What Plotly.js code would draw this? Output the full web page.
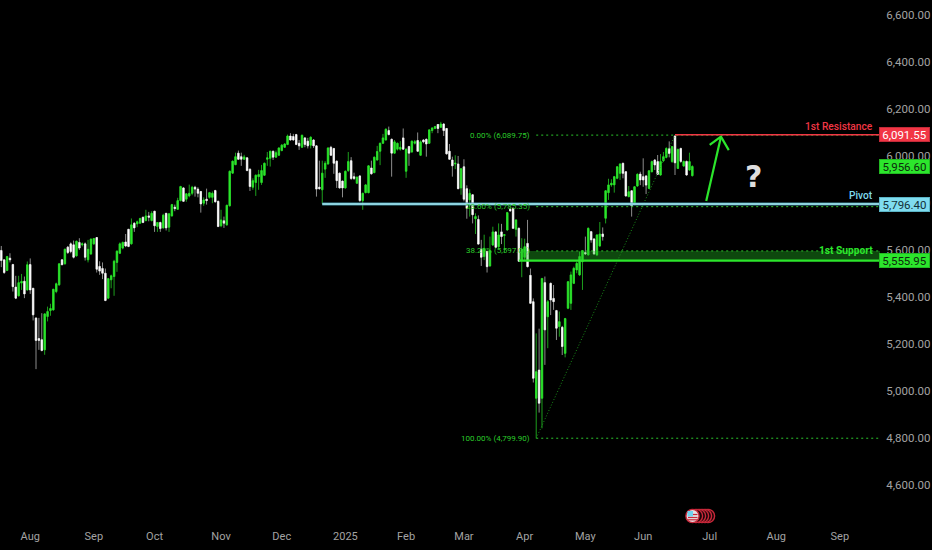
<!DOCTYPE html>
<html>
<head>
<meta charset="utf-8">
<script src="https://cdn.plot.ly/plotly-3.0.1.min.js"></script>
<style>html,body{margin:0;padding:0;background:#000;overflow:hidden}</style>
</head>
<body>
<div id="chart" style="width:932px;height:550px"></div>
<script>
const open = [
5599,5559,5514,5566,5539,5443,5406,5460,5468,5431,
5539,5438,5311,5224,5219,5176,5318,5343,5346,5424,
5453,5559,5542,5613,5627,5623,5576,5633,5623,5627,
5559,5584,5627,5654,5531,5522,5502,5396,5474,5488,
5548,5587,5609,5635,5689,5627,5715,5712,5715,5740,
5726,5746,5726,5766,5701,5718,5695,5757,5698,5746,
5783,5774,5811,5865,5817,5831,5842,5868,5860,5850,
5800,5817,5825,5825,5854,5808,5704,5725,5708,5789,
5928,5964,6013,5998,5987,5993,5945,5868,5888,5913,
5888,5919,5987,5991,6021,5996,6004,6024,6038,6050,
6086,6084,6092,6055,6038,6078,6064,6047,6069,6044,
5868,5857,5945,5967,6038,6033,5979,5928,5894,5865,
5939,5981,5913,5885,5916,5811,5845,5845,5950,5930,
5984,6021,6055,6069,6109,6072,6013,6030,6030,6078,
5936,6041,6018,6055,6067,6004,6069,6072,6055,6109,
6118,6135,6123,6137,6118,6021,5984,5967,5967,5865,
5955,5862,5814,5836,5734,5731,5604,5573,5595,5533,
5622,5678,5615,5678,5663,5686,5774,5778,5689,5693,
5558,5570,5629,5493,5381,4970,5090,4970,5462,5317,
5459,5395,5343,5275,5272,5161,5353,5374,5459,5516,
5495,5551,5590,5580,5679,5648,5580,5618,5669,5736,
5845,5878,5878,5906,5927,5970,5934,5828,5853,5797,
5873,5924,5913,5916,5863,5934,5984,5977,5920,5981,
5995,6033,5977,6086,5948,6033,5958,5978,5941,5917];
const high = [
5618,5559,5576,5587,5542,5491,5491,5499,5488,5552,
5565,5438,5315,5312,5332,5332,5360,5372,5434,5462,
5545,5562,5607,5618,5633,5641,5641,5651,5633,5633,
5644,5650,5652,5654,5553,5548,5522,5482,5496,5559,
5599,5633,5637,5669,5689,5735,5718,5726,5738,5743,
5772,5763,5766,5766,5718,5721,5755,5757,5757,5797,
5794,5823,5874,5868,5842,5879,5874,5874,5868,5852,
5825,5862,5848,5850,5857,5811,5772,5743,5794,5939,
5981,6015,6024,6015,6006,5996,5947,5906,5922,5942,
5963,5973,6018,6024,6024,6024,6038,6052,6055,6092,
6098,6095,6095,6069,6092,6081,6078,6084,6072,6047,
5981,5981,5979,6038,6044,6035,5981,5930,5896,5939,
6018,5996,5930,5913,5919,5845,5882,5962,5981,5998,
6044,6058,6095,6118,6126,6075,6069,6058,6064,6118,
6033,6044,6067,6069,6101,6067,6072,6075,6115,6123,
6129,6137,6146,6140,6120,6052,5998,6004,6001,5950,
5987,5876,5859,5839,5757,5748,5644,5666,5598,5658,
5700,5680,5714,5712,5669,5763,5782,5782,5731,5697,
5651,5649,5729,5522,5395,5246,5266,5480,5488,5388,
5462,5452,5346,5339,5278,5312,5469,5509,5530,5551,
5594,5601,5658,5697,5682,5651,5668,5720,5697,5856,
5904,5902,5916,5958,5970,5972,5937,5873,5856,5873,
5927,5934,5991,5920,5941,5981,5987,6005,6009,6018,
6038,6063,6043,6089,6032,6036,5981,5981,6015,5961];
const low = [
5528,5499,5511,5548,5424,5392,5403,5431,5396,5428,
5414,5301,5094,5176,5170,5155,5297,5321,5343,5417,
5448,5538,5539,5584,5587,5565,5573,5601,5616,5556,
5548,5580,5623,5505,5495,5477,5383,5392,5438,5406,
5508,5584,5604,5613,5613,5624,5678,5698,5712,5715,
5723,5723,5723,5678,5678,5678,5692,5684,5678,5743,
5766,5772,5808,5806,5806,5825,5834,5828,5825,5760,
5789,5794,5820,5800,5803,5698,5698,5695,5704,5786,
5925,5962,5984,5959,5984,5936,5852,5857,5831,5857,
5878,5916,5959,5956,5984,5993,6001,6021,6035,6047,
6067,6067,6047,6027,6035,6038,6033,6033,6035,5828,
5857,5797,5908,5964,6001,5925,5865,5862,5825,5862,
5933,5899,5899,5882,5806,5772,5842,5842,5922,5928,
5981,5962,6052,6067,6089,5913,6010,6024,6024,6027,
5908,5959,6015,6050,6018,6001,6055,5998,6052,6098,
6115,6098,6120,6086,6007,5984,5913,5945,5859,5836,
5808,5734,5743,5714,5669,5624,5533,5558,5505,5530,
5618,5609,5609,5626,5590,5683,5763,5690,5658,5550,
5485,5558,5527,5371,5037,4799.9,4909,4842,5112,5183,
5324,5346,5218,5232,5154,5144,5349,5346,5456,5502,
5490,5431,5580,5578,5632,5581,5575,5615,5641,5714,
5814,5870,5845,5902,5899,5906,5828,5825,5743,5792,
5870,5877,5870,5839,5860,5931,5941,5920,5917,5975,
5991,5995,5972,5920,5946,5972,5955,5917,5938,5914];
const close = [
5556,5505,5573,5559,5445,5396,5462,5467,5414,5538,
5431,5325,5216,5216,5173,5329,5339,5352,5434,5457,
5542,5538,5604,5590,5594,5570,5638,5609,5627,5570,
5604,5647,5650,5519,5511,5502,5386,5479,5491,5553,
5596,5627,5633,5618,5616,5708,5695,5721,5735,5718,
5746,5740,5757,5704,5718,5692,5749,5695,5755,5794,
5777,5811,5871,5808,5840,5842,5868,5860,5842,5797,
5814,5811,5845,5842,5806,5701,5729,5715,5791,5936,
5979,5998,5987,5987,5997,5939,5871,5896,5919,5922,
5939,5970,5993,6021,5996,6015,6035,6047,6052,6086,
6069,6069,6050,6044,6089,6050,6044,6081,6044,5860,
5862,5928,5970,6035,6004,5970,5896,5865,5865,5936,
5977,5905,5905,5911,5811,5842,5878,5959,5925,5996,
6020,6055,6078,6115,6092,6013,6061,6055,6038,6030,
6030,6013,6064,6062,6021,6061,6061,6052,6112,6120,
6126,6118,6137,6109,6010,5987,5959,5970,5862,5947,
5817,5778,5842,5751,5743,5626,5570,5608,5530,5598,
5678,5612,5665,5658,5666,5760,5768,5693,5729,5553,
5604,5615,5530,5374,5055,5083,4949,5480,5261,5381,
5388,5381,5268,5296,5190,5309,5466,5495,5523,5544,
5573,5598,5584,5693,5644,5584,5665,5669,5658,5853,
5878,5885,5913,5955,5967,5927,5831,5849,5788,5870,
5923,5899,5899,5877,5938,5977,5963,5923,5977,5998,
6033,6012,6041,5972,6029,5978,5978,5920,5977,5956.6];

const tickIndex = [10,32,53,76,97,119,140,160,181,202,222,245,268,290];
const tickLabels = ['Aug','Sep','Oct','Nov','Dec','2025','Feb','Mar','Apr','May','Jun','Jul','Aug','Sep'];
const priceTicks = [4600,4800,5000,5200,5400,5600,5800,6000,6200,6400,6600];

const resistance = 6091.55, pivot = 5796.40, support = 5555.95, lastPrice = 5956.60;
const fibPrices = [6089.75, 5785.35, 5597.00, 4799.90];
const fibLabels = ['0.00% (6,089.75)','23.60% (5,785.35)','38.20% (5,597.00)','100.00% (4,799.90)'];
const fibStartBar = 185, fibEndBar = 233, pivotStartBar = 111, supportStartBar = 179, fibLabelBar = 183.4;
const arrowShaftX = [243.8, 248.9], arrowShaftY = [5809, 6083];
const arrowHeadX = [245, 248.9, 251.6], arrowHeadY = [6048, 6083, 6026];

const GREEN = '#2ce62c', GREEN_DIM = '#1d9e1d', WHITE = '#ffffff', WHITE_DIM = '#8c8c8c';
const RED = '#f23645', CYAN = '#7fdcef', FIB = '#2bc42b';
const xMax = 303.9, FONT = 'Roboto, "Liberation Sans", sans-serif', AXIS = '#a3a3a3';

const bars = open.map((_, i) => i);
// wicks: dim, thin; bodies: a second pass over the same bars, bright and a little wider
const wicks = {
  type: 'candlestick', x: bars, open, high, low, close, width: 0.3, whiskerwidth: 0,
  increasing: {line: {color: GREEN_DIM, width: 1}, fillcolor: GREEN_DIM},
  decreasing: {line: {color: WHITE_DIM, width: 1}, fillcolor: WHITE_DIM},
  hoverinfo: 'skip'
};
const bodies = {
  type: 'candlestick', x: bars, open, close,
  high: open.map((v, i) => Math.max(v, close[i])),
  low: open.map((v, i) => Math.min(v, close[i])),
  width: 0.42, whiskerwidth: 0,
  increasing: {line: {color: GREEN, width: 0.5}, fillcolor: GREEN},
  decreasing: {line: {color: WHITE, width: 0.5}, fillcolor: WHITE},
  hoverinfo: 'skip'
};
const arrowShaft = {type: 'scatter', mode: 'lines', x: arrowShaftX, y: arrowShaftY,
  line: {color: GREEN, width: 2.2}, hoverinfo: 'skip'};
const arrowHead = {type: 'scatter', mode: 'lines', x: arrowHeadX, y: arrowHeadY,
  line: {color: GREEN, width: 2.2}, hoverinfo: 'skip'};

function hLine(y, x0, color, width, dash) {
  return {type: 'line', xref: 'x', yref: 'y', x0, x1: xMax, y0: y, y1: y,
    line: {color, width, dash: dash || 'solid'}};
}
const DOTS = '2px,3px';
const shapes = [
  {type: 'rect', xref: 'x', yref: 'y', x0: supportStartBar, x1: xMax, y0: support, y1: fibPrices[2],
    fillcolor: 'rgba(36,190,36,0.38)', line: {width: 0}},
  hLine(fibPrices[0], fibStartBar, FIB, 1, DOTS),
  hLine(fibPrices[1], fibStartBar, FIB, 1, DOTS),
  hLine(fibPrices[2], fibStartBar, FIB, 1, DOTS),
  hLine(fibPrices[3], fibStartBar, FIB, 1, DOTS),
  {type: 'line', xref: 'x', yref: 'y', x0: fibStartBar, x1: fibEndBar, y0: fibPrices[3], y1: fibPrices[0],
    line: {color: '#1a8f1a', width: 1, dash: '1px,2px'}},
  hLine(resistance, fibEndBar, RED, 1.6),
  hLine(pivot, pivotStartBar, '#3f8a99', 3),
  hLine(pivot, pivotStartBar, '#a8ecf8', 1.6),
  hLine(support, supportStartBar, GREEN, 2.2)
];

// event badge at the bottom of the pane
const PW = 880, PH = 528;
function badge(cx, cy, r, fill, line) {
  return {type: 'circle', xref: 'paper', yref: 'paper',
    x0: (cx - r) / PW, x1: (cx + r) / PW, y0: 1 - (cy + r) / PH, y1: 1 - (cy - r) / PH,
    fillcolor: fill, line: {color: line, width: 1.4}};
}
[708, 705, 702, 699, 696].forEach(cx => shapes.push(badge(cx, 516, 6.6, '#1a0508', '#c8283a')));
shapes.push(badge(692.5, 516, 6.6, '#e6dfe2', '#c8283a'));
shapes.push({type: 'rect', xref: 'paper', yref: 'paper', x0: 687.5 / PW, x1: 693 / PW,
  y0: 1 - 516.5 / PH, y1: 1 - 511 / PH, fillcolor: '#6fd2ee', line: {width: 0}});
[514.5, 517.5, 519.8].forEach(y => shapes.push({type: 'line', xref: 'paper', yref: 'paper',
  x0: (y > 516 ? 688 : 693) / PW, x1: 697.5 / PW, y0: 1 - y / PH, y1: 1 - y / PH,
  line: {color: '#c8283a', width: 1.2}}));

function priceBox(price, text, bg, fg, border) {
  return {xref: 'paper', yref: 'y', x: 1, y: price, xanchor: 'left', yanchor: 'middle', xshift: -1,
    text, showarrow: false, align: 'center', width: 49, height: 13, bgcolor: bg, bordercolor: border,
    borderwidth: 1, borderpad: 0, font: {family: FONT, size: 11.5, color: fg}};
}
function levelName(price, text, color, yshift, weight) {
  return {xref: 'paper', yref: 'y', x: 875 / PW, y: price, xanchor: 'right', yanchor: 'middle', yshift,
    text, showarrow: false, font: {family: FONT, size: 10.2, color, weight: weight || 500}};
}
const annotations = [
  priceBox(resistance, '6,091.55', RED, '#ffffff', '#c22a38'),
  priceBox(lastPrice, '5,956.60', GREEN, '#0c2a0c', '#22b822'),
  priceBox(pivot, '5,796.40', CYAN, '#123038', '#5bb4c6'),
  priceBox(support, '5,555.95', GREEN, '#0c2a0c', '#22b822'),
  levelName(resistance, '1st Resistance', RED, 8),
  levelName(pivot, 'Pivot', CYAN, 9),
  levelName(fibPrices[2], '1st Support', GREEN, 0, 700),
  {xref: 'x', yref: 'y', x: 260, y: 5915, text: '?', showarrow: false,
   font: {family: '"DejaVu Sans", sans-serif', size: 30, color: '#dedede', weight: 700}}
];
fibLabels.forEach((t, i) => annotations.push({xref: 'x', yref: 'y', x: fibLabelBar, y: fibPrices[i],
  xanchor: 'right', yanchor: 'middle', text: t, showarrow: false,
  font: {family: FONT, size: 8, color: '#2bcc2b'}}));

const layout = {
  width: 932, height: 550,
  margin: {l: 0, r: 52, t: 0, b: 22},
  paper_bgcolor: '#000000', plot_bgcolor: '#000000',
  showlegend: false, dragmode: false, hovermode: false,
  xaxis: {type: 'linear', range: [-0.45, xMax], tickmode: 'array', tickvals: tickIndex, ticktext: tickLabels,
    showgrid: false, zeroline: false, showline: false, ticks: '', rangeslider: {visible: false},
    tickfont: {family: FONT, size: 11, color: AXIS}},
  yaxis: {side: 'right', range: [4417.9, 6664.7], tickmode: 'array', tickvals: priceTicks,
    ticktext: priceTicks.map(v => v.toLocaleString('en-US', {minimumFractionDigits: 2})),
    showgrid: false, zeroline: false, showline: false,
    ticks: 'outside', ticklen: 3, tickwidth: 1, tickcolor: 'rgba(0,0,0,0)',
    tickfont: {family: FONT, size: 11.5, color: AXIS}},
  shapes, annotations
};
Plotly.newPlot('chart', [wicks, bodies, arrowShaft, arrowHead], layout, {displayModeBar: false, staticPlot: true});
</script>
</body>
</html>
